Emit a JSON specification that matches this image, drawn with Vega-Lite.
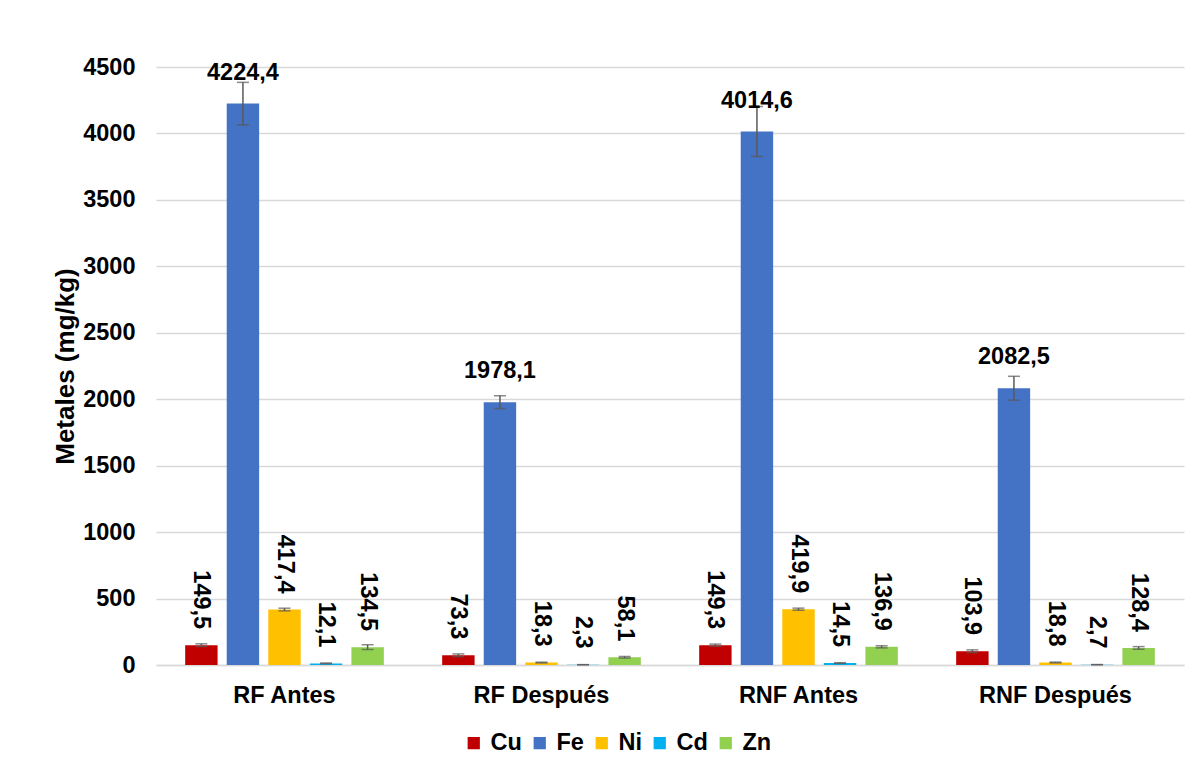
{
  "$schema": "https://vega.github.io/schema/vega-lite/v6.json",
  "width": 1028,
  "height": 598,
  "autosize": {"type": "none"},
  "padding": {"left": 156, "top": 67, "right": 16, "bottom": 106},
  "background": "white",
  "config": {
    "locale": {"number": {"decimal": ",", "thousands": ".", "grouping": [3], "currency": ["", "€"]}},
    "view": {"stroke": null},
    "font": "Liberation Sans",
    "axis": {"labelFont": "Liberation Sans", "titleFont": "Liberation Sans"}
  },
  "data": {
    "values": [
      {"grupo": "RF Antes", "metal": "Cu", "valor": 149.5, "err": 10},
      {"grupo": "RF Antes", "metal": "Fe", "valor": 4224.4, "err": 160},
      {"grupo": "RF Antes", "metal": "Ni", "valor": 417.4, "err": 10},
      {"grupo": "RF Antes", "metal": "Cd", "valor": 12.1, "err": 3},
      {"grupo": "RF Antes", "metal": "Zn", "valor": 134.5, "err": 18},
      {"grupo": "RF Después", "metal": "Cu", "valor": 73.3, "err": 10},
      {"grupo": "RF Después", "metal": "Fe", "valor": 1978.1, "err": 48},
      {"grupo": "RF Después", "metal": "Ni", "valor": 18.3, "err": 3},
      {"grupo": "RF Después", "metal": "Cd", "valor": 2.3, "err": 0.5},
      {"grupo": "RF Después", "metal": "Zn", "valor": 58.1, "err": 6},
      {"grupo": "RNF Antes", "metal": "Cu", "valor": 149.3, "err": 8},
      {"grupo": "RNF Antes", "metal": "Fe", "valor": 4014.6, "err": 188},
      {"grupo": "RNF Antes", "metal": "Ni", "valor": 419.9, "err": 8},
      {"grupo": "RNF Antes", "metal": "Cd", "valor": 14.5, "err": 3},
      {"grupo": "RNF Antes", "metal": "Zn", "valor": 136.9, "err": 8},
      {"grupo": "RNF Después", "metal": "Cu", "valor": 103.9, "err": 10},
      {"grupo": "RNF Después", "metal": "Fe", "valor": 2082.5, "err": 90},
      {"grupo": "RNF Después", "metal": "Ni", "valor": 18.8, "err": 3},
      {"grupo": "RNF Después", "metal": "Cd", "valor": 2.7, "err": 0.5},
      {"grupo": "RNF Después", "metal": "Zn", "valor": 128.4, "err": 10}
    ]
  },
  "encoding": {
    "x": {
      "field": "grupo", "type": "nominal",
      "sort": ["RF Antes", "RF Después", "RNF Antes", "RNF Después"],
      "scale": {"paddingInner": 0.227, "paddingOuter": 0.1135},
      "axis": {
        "title": null, "labelAngle": 0, "labelFontSize": 23.5, "labelFontWeight": "bold",
        "labelColor": "#000000", "labelPadding": 18, "ticks": false,
        "domainColor": "#d9d9d9", "domainWidth": 1.5
      }
    },
    "xOffset": {
      "field": "metal", "type": "nominal",
      "sort": ["Cu", "Fe", "Ni", "Cd", "Zn"],
      "scale": {"paddingInner": 0.22, "paddingOuter": 0.0}
    },
    "y": {
      "field": "valor", "type": "quantitative",
      "scale": {"domain": [0, 4500], "nice": false},
      "axis": {
        "title": "Metales (mg/kg)", "titleFontSize": 26, "titleFontWeight": "bold", "titleColor": "#000000",
        "titlePadding": 4,
        "values": [0, 500, 1000, 1500, 2000, 2500, 3000, 3500, 4000, 4500],
        "format": "d", "labelFontSize": 23.5, "labelFontWeight": "bold", "labelColor": "#000000",
        "labelPadding": 21, "ticks": false, "domain": false,
        "gridColor": "#d9d9d9", "gridWidth": 1.5
      }
    }
  },
  "layer": [
    {
      "mark": {"type": "bar"},
      "encoding": {
        "color": {
          "field": "metal", "type": "nominal",
          "sort": ["Cu", "Fe", "Ni", "Cd", "Zn"],
          "scale": {"domain": ["Cu", "Fe", "Ni", "Cd", "Zn"], "range": ["#C00000", "#4472C4", "#FFC000", "#00B0F0", "#92D050"]},
          "legend": {
            "title": null, "orient": "none", "direction": "horizontal", "columns": 5,
            "legendX": 306, "legendY": 664,
            "symbolType": "square", "symbolSize": 150, "symbolStrokeWidth": 0, "symbolOpacity": 1,
            "labelFontSize": 23.5, "labelFontWeight": "bold", "labelColor": "#000000",
            "labelOffset": 5, "columnPadding": 6, "labelFont": "Liberation Sans"
          }
        }
      }
    },
    {
      "mark": {"type": "errorbar", "ticks": {"size": 12, "thickness": 1.5, "color": "#595959"}, "rule": {"strokeWidth": 1.5, "color": "#595959"}, "color": "#595959"},
      "encoding": {
        "yError": {"field": "err"}
      }
    },
    {
      "transform": [{"filter": "datum.metal !== 'Fe'"}],
      "mark": {"type": "text", "angle": 90, "align": "right", "baseline": "middle", "dx": -16, "fontSize": 23.5, "fontWeight": "bold", "color": "#000000", "font": "Liberation Sans"},
      "encoding": {
        "text": {"field": "valor", "type": "quantitative", "format": ".1f"}
      }
    },
    {
      "transform": [{"filter": "datum.metal === 'Fe'"}],
      "mark": {"type": "text", "align": "center", "baseline": "alphabetic", "dy": -24, "fontSize": 23.5, "fontWeight": "bold", "color": "#000000", "font": "Liberation Sans"},
      "encoding": {
        "text": {"field": "valor", "type": "quantitative", "format": ".1f"}
      }
    }
  ]
}
